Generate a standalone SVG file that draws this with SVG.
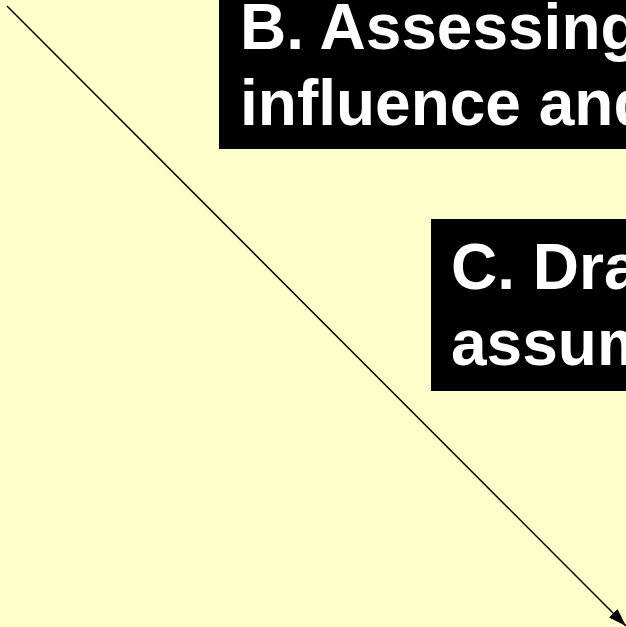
<svg xmlns="http://www.w3.org/2000/svg" width="626" height="627" viewBox="0 0 626 627">
<style>
.box{fill:#000000}
.lbl{font-family:"Liberation Sans",Arial,sans-serif;font-weight:bold;font-size:64px;fill:#FFFFFF}
.conn{stroke:#000000;stroke-width:1.5;fill:none}
</style>
<defs>
<marker id="arrow" viewBox="0 0 18 12" refX="18" refY="6" markerWidth="18" markerHeight="12" markerUnits="userSpaceOnUse" orient="auto">
<path d="M0,0 L18,6 L0,12 z" fill="#000000"/>
</marker>
</defs>
<rect x="0" y="0" width="626" height="627" fill="#FFFFCC"/>
<g id="connectors">
<line class="conn" x1="7" y1="6" x2="626" y2="626" marker-end="url(#arrow)"/>
</g>
<g id="node-B">
<rect class="box" x="219" y="-20" width="440" height="169"/>
<text class="lbl" x="240" y="49">B. Assessing</text>
<text class="lbl" x="240" y="125">influence and</text>
</g>
<g id="node-C">
<rect class="box" x="431" y="219" width="230" height="172"/>
<text class="lbl" x="451" y="289">C. Dra</text>
<text class="lbl" x="451" y="365">assum</text>
</g>
</svg>
